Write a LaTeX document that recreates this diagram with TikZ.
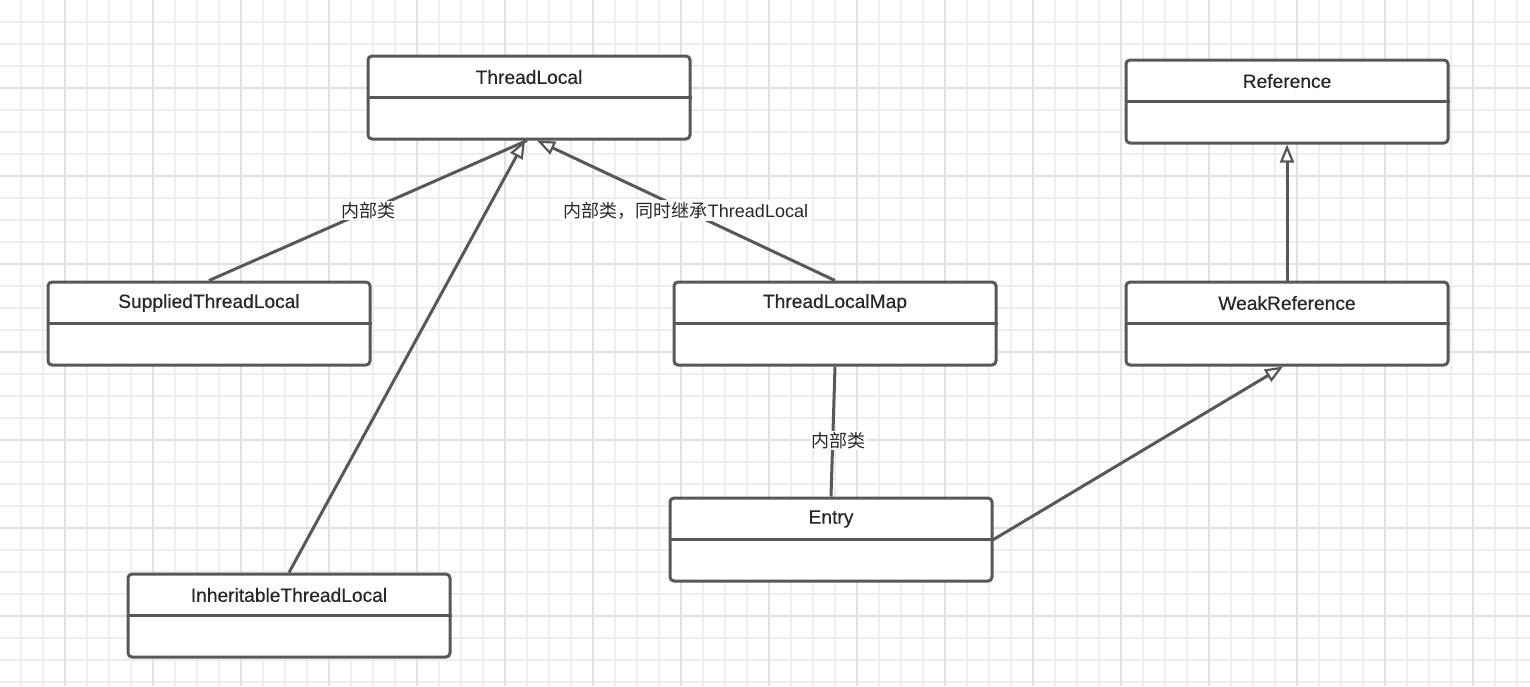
\documentclass[tikz,border=0pt]{standalone}
\usepackage{fontspec}
\setmainfont{Liberation Sans}
\newfontfamily\cjk{Noto Sans CJK SC}
\newfontfamily\boxfont{Liberation Sans}[FakeBold=0.5]
\usetikzlibrary{arrows.meta,calc}
\definecolor{lc}{RGB}{88,88,88}
\definecolor{tc}{RGB}{40,40,40}
\definecolor{gminor}{RGB}{238,238,238}
\definecolor{gmajor}{RGB}{226,226,226}
\tikzset{
  umlbox/.style={draw=lc, line width=3pt, fill=white, rounded corners=4pt,
    minimum width=322pt, minimum height=83pt, inner sep=0pt},
  umltitle/.style={text=tc, font=\boxfont\fontsize{19.2}{22}\selectfont, inner sep=0pt},
  conn/.style={draw=lc, line width=3pt},
  inherit/.style={conn, -{Triangle[open, length=18pt, width=14pt, line width=2.2pt]}},
  lbl/.style={fill=white, text=tc, inner sep=1.5pt, font=\fontsize{18}{22}\selectfont}
}
\newcommand{\umlclass}[4]{%
  \node[umlbox] (#1) at (#2,#3) {};
  \draw[lc, line width=3pt] (#1.west) -- (#1.east);
  \node[umltitle] (#1-t) at ($(#1.north)!0.5!(#1.center)+(0,1)$) {#4};
}
\begin{document}
\begin{tikzpicture}[x=1pt, y=-1pt]
\useasboundingbox (0,0) rectangle (1530,686);
\fill[white] (0,0) rectangle (1530,686);
% grid
\foreach \x in {21,43,...,1530} \draw[gminor, line width=1.5pt] (\x,0) -- (\x,686);
\foreach \y in {22,44,...,686} \draw[gminor, line width=1.5pt] (0,\y) -- (1530,\y);
\foreach \x in {65,153,...,1530} \draw[gmajor, line width=2pt] (\x,0) -- (\x,686);
\foreach \y in {88,176,...,686} \draw[gmajor, line width=2pt] (0,\y) -- (1530,\y);
% classes
\umlclass{tl}{529}{97.5}{ThreadLocal}
\umlclass{ref}{1287}{101.5}{Reference}
\umlclass{sup}{209}{323.5}{SuppliedThreadLocal}
\umlclass{tlm}{835}{323.5}{ThreadLocalMap}
\umlclass{wr}{1287}{323.5}{WeakReference}
\umlclass{entry}{831}{539.5}{Entry}
\umlclass{inh}{289}{615.5}{InheritableThreadLocal}
% connectors
\draw[conn] (sup.north) -- node[lbl, pos=0.5] (l1) {\cjk 内部类} ([xshift=-2pt]tl.south);
\draw[inherit] (inh.north) -- ([xshift=-4pt]tl.south);
\draw[inherit] (tlm.north) -- node[lbl, pos=0.5] (l2) {{\cjk 内部类，同时继承}ThreadLocal} ([xshift=8pt]tl.south);
\draw[conn] (tlm.south) -- node[lbl, pos=0.57, xshift=6pt] (l3) {\cjk 内部类} (entry.north);
\draw[inherit] (entry.east) -- ([xshift=-4pt]wr.south);
\draw[inherit] (wr.north) -- (ref.south);
\end{tikzpicture}
\end{document}
